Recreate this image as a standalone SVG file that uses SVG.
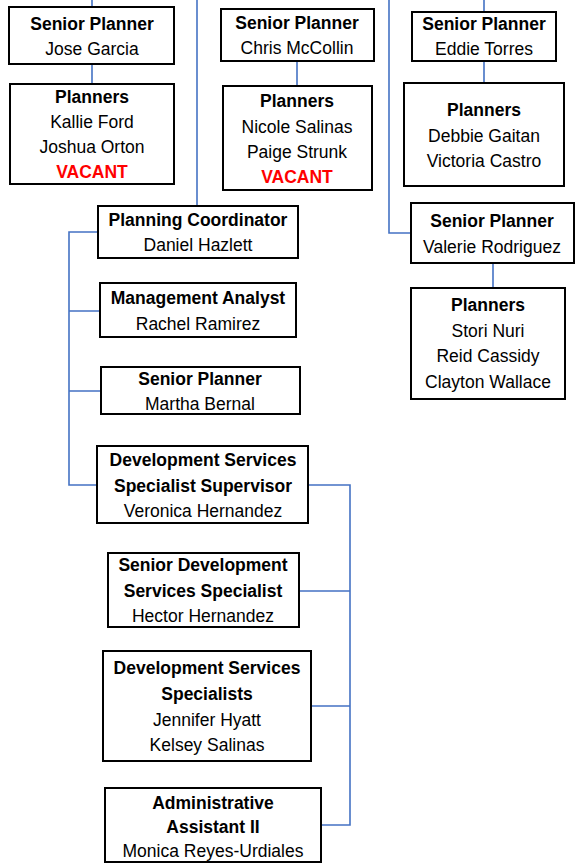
<svg xmlns="http://www.w3.org/2000/svg" width="578" height="866" viewBox="0 0 578 866">
<style>
.box{fill:#fff;stroke:#000;stroke-width:2}
.ln{fill:none;stroke:#4472C4;stroke-width:1.6}
text{font-family:"Liberation Sans",Arial,sans-serif;font-size:17.5px;text-anchor:middle;fill:#000}
.b{font-weight:bold}
.v{font-weight:bold;fill:#FF0000}
</style>
<rect width="578" height="866" fill="#fff"/>
<g id="connectors">
<path class="ln" d="M92,0V7 M92,64V84"/>
<path class="ln" d="M197,0V206"/>
<path class="ln" d="M297,61V86"/>
<path class="ln" d="M484,0V12 M484,61V83"/>
<path class="ln" d="M389,0V233H411"/>
<path class="ln" d="M493,263V288"/>
<path class="ln" d="M98,232H69V485H97 M69,311H100 M69,391H101"/>
<path class="ln" d="M308,485H350V825H321 M299,591H350 M311,706H350"/>
</g>
<g id="sp-jose"><rect class="box" x="9" y="7" width="165" height="57"/><text class="b" x="92" y="30">Senior Planner</text><text x="92" y="55">Jose Garcia</text></g>
<g id="pl-1"><rect class="box" x="10" y="84" width="164" height="100"/><text class="b" x="92" y="103">Planners</text><text x="92" y="128">Kallie Ford</text><text x="92" y="153">Joshua Orton</text><text class="v" x="92" y="178">VACANT</text></g>
<g id="sp-chris"><rect class="box" x="221" y="9" width="153" height="52"/><text class="b" x="297" y="29">Senior Planner</text><text x="297" y="54">Chris McCollin</text></g>
<g id="pl-2"><rect class="box" x="223" y="86" width="149" height="104"/><text class="b" x="297" y="107">Planners</text><text x="297" y="133">Nicole Salinas</text><text x="297" y="158">Paige Strunk</text><text class="v" x="297" y="183">VACANT</text></g>
<g id="sp-eddie"><rect class="box" x="412" y="12" width="144" height="49"/><text class="b" x="484" y="30">Senior Planner</text><text x="484" y="55">Eddie Torres</text></g>
<g id="pl-3"><rect class="box" x="404" y="83" width="160" height="103"/><text class="b" x="484" y="116">Planners</text><text x="484" y="142">Debbie Gaitan</text><text x="484" y="167">Victoria Castro</text></g>
<g id="sp-valerie"><rect class="box" x="411" y="203" width="163" height="60"/><text class="b" x="492" y="227">Senior Planner</text><text x="492" y="253">Valerie Rodriguez</text></g>
<g id="pl-4"><rect class="box" x="411" y="288" width="154" height="111"/><text class="b" x="488" y="311">Planners</text><text x="488" y="337">Stori Nuri</text><text x="488" y="362">Reid Cassidy</text><text x="488" y="388">Clayton Wallace</text></g>
<g id="pc"><rect class="box" x="98" y="206" width="200" height="52"/><text class="b" x="198" y="226">Planning Coordinator</text><text x="198" y="251">Daniel Hazlett</text></g>
<g id="ma"><rect class="box" x="100" y="283" width="196" height="54"/><text class="b" x="198" y="304">Management Analyst</text><text x="198" y="330">Rachel Ramirez</text></g>
<g id="sp-martha"><rect class="box" x="101" y="367" width="199" height="47"/><text class="b" x="200" y="385">Senior Planner</text><text x="200" y="410">Martha Bernal</text></g>
<g id="dsss"><rect class="box" x="97" y="446" width="211" height="77"/><text class="b" x="203" y="466">Development Services</text><text class="b" x="203" y="492">Specialist Supervisor</text><text x="203" y="517">Veronica Hernandez</text></g>
<g id="sdss"><rect class="box" x="108" y="553" width="191" height="74"/><text class="b" x="203" y="571">Senior Development</text><text class="b" x="203" y="597">Services Specialist</text><text x="203" y="622">Hector Hernandez</text></g>
<g id="dss"><rect class="box" x="103" y="651" width="208" height="110"/><text class="b" x="207" y="674">Development Services</text><text class="b" x="207" y="700">Specialists</text><text x="207" y="726">Jennifer Hyatt</text><text x="207" y="751">Kelsey Salinas</text></g>
<g id="aa"><rect class="box" x="105" y="788" width="216" height="74"/><text class="b" x="213" y="809">Administrative</text><text class="b" x="213" y="833">Assistant II</text><text x="213" y="857">Monica Reyes-Urdiales</text></g>
</svg>
